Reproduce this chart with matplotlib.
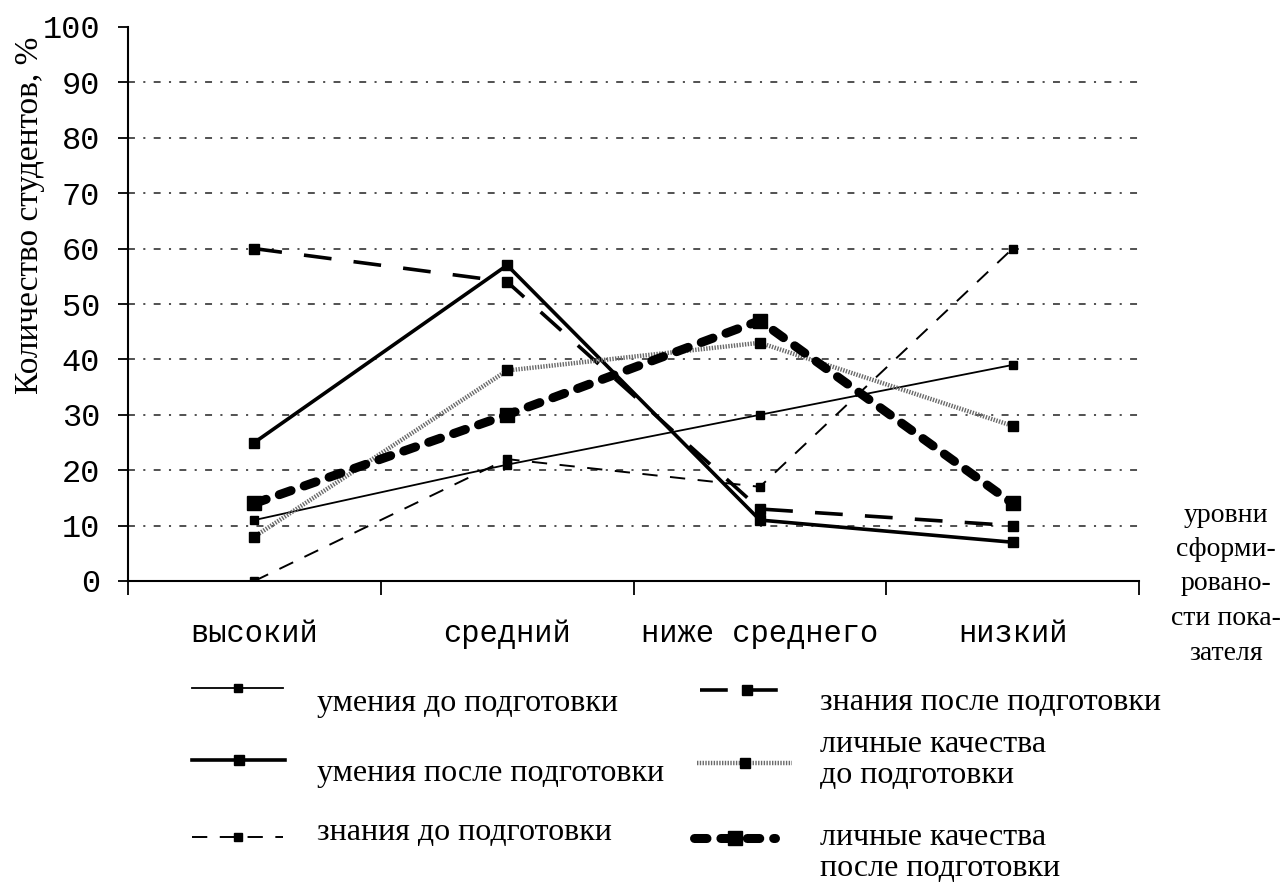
import matplotlib
matplotlib.use('Agg')
import matplotlib.pyplot as plt
from matplotlib.lines import Line2D
import numpy as np

# --- данные ---
categories = ['высокий', 'средний', 'ниже среднего', 'низкий']
y_ticks = [0, 10, 20, 30, 40, 50, 60, 70, 80, 90, 100]

umen_do = [11, 21, 30, 39]        # умения до подготовки
umen_posle = [25, 57, 11, 7]      # умения после подготовки
znan_do = [0, 22, 17, 60]         # знания до подготовки
znan_posle = [60, 54, 13, 10]     # знания после подготовки
lich_do = [8, 38, 43, 28]         # личные качества до подготовки
lich_posle = [14, 30, 47, 14]     # личные качества после подготовки

plt.rcParams['lines.scale_dashes'] = False
SERIF = ['Liberation Serif', 'DejaVu Serif']
MONO = ['Liberation Mono', 'DejaVu Sans Mono']

# стили линий: (подпись, данные, параметры)
series = [
    ('умения до подготовки', umen_do,
     dict(color='black', lw=1.3, ls='-', marker='s', ms=6)),
    ('умения после подготовки', umen_posle,
     dict(color='black', lw=2.6, ls='-', marker='s', ms=7)),
    ('знания до подготовки', znan_do,
     dict(color='black', lw=1.4, ls=(0, (11, 9)), marker='s', ms=6)),
    ('знания после подготовки', znan_posle,
     dict(color='black', lw=2.6, ls=(0, (20, 16)), marker='s', ms=7)),
    ('личные качества\nдо подготовки', lich_do,
     dict(color='#6a6a6a', lw=3.2, ls=(0, (1, 1)), marker='s', ms=7,
          mfc='black', mec='black')),
    ('личные качества\nпосле подготовки', lich_posle,
     dict(color='black', lw=6.5, ls=(0, (9, 10)), marker='s', ms=10,
          dash_capstyle='round')),
]

W, H = 1285, 884
fig = plt.figure(figsize=(W / 100, H / 100), dpi=100)
fig.patch.set_facecolor('white')

# область графика в пикселях исходника
left, right, top, bottom = 128, 1139, 27, 581
ax = fig.add_axes([left / W, 1 - bottom / H, (right - left) / W, (bottom - top) / H])

x = np.arange(len(categories))

# горизонтальная сетка (штрих-пунктир)
for v in y_ticks[1:-1]:
    ax.axhline(v, color='#222222', lw=1.1, ls=(0, (5, 6, 1.5, 6)), zorder=1)

for label, vals, st in series:
    ax.plot(x, vals, zorder=3, **st)

ax.set_xlim(-0.5, 3.5)
ax.set_ylim(0, 100)
ax.set_yticks(y_ticks)
ax.set_yticklabels([str(v) for v in y_ticks], family=MONO, fontsize=23)
ax.set_xticks([-0.5, 0.5, 1.5, 2.5, 3.5])
ax.set_xticklabels([])
ax.tick_params(axis='y', direction='out', length=7, width=1.3, pad=13)
ax.tick_params(axis='x', direction='out', length=10, width=1.3)
for s in ['top', 'right']:
    ax.spines[s].set_visible(False)
for s in ['left', 'bottom']:
    ax.spines[s].set_linewidth(1.5)

# подписи категорий
for i, c in enumerate(categories):
    ax.text(i, -9.5, c, ha='center', va='center', family=MONO, fontsize=22,
            transform=ax.transData, clip_on=False)

# подпись оси Y
fig.text(30 / W, 1 - 215 / H, 'Количество студентов, %', rotation=90,
         ha='center', va='center', family=SERIF, fontsize=24)

# подпись справа от оси X
fig.text(1226 / W, 1 - 584 / H, 'уровни\nсформи-\nровано-\nсти пока-\nзателя',
         ha='center', va='center', family=SERIF, fontsize=20, linespacing=1.5)

# --- легенда (ручная раскладка) ---
legend_pos = [
    # (x0, x1, y линии, x текста, y текста)
    (192, 283, 688, 317, 703),
    (192, 285, 760, 317, 773),
    (192, 283, 837, 317, 832),
    (700, 793, 690, 820, 703),
    (697, 792, 763, 820, 760),
    (694, 775, 838, 820, 853),
]
for (label, vals, st), (x0, x1, yl, xt, yt) in zip(series, legend_pos):
    xm = (x0 + x1) / 2
    ln = Line2D([x0 / W, xm / W, x1 / W], [1 - yl / H] * 3,
                transform=fig.transFigure, markevery=[1], **st)
    fig.add_artist(ln)
    fig.text(xt / W, 1 - yt / H, label, ha='left', va='center',
             family=SERIF, fontsize=23, linespacing=1.08)

plt.savefig('out.png', dpi=100, facecolor='white')
plt.close()
